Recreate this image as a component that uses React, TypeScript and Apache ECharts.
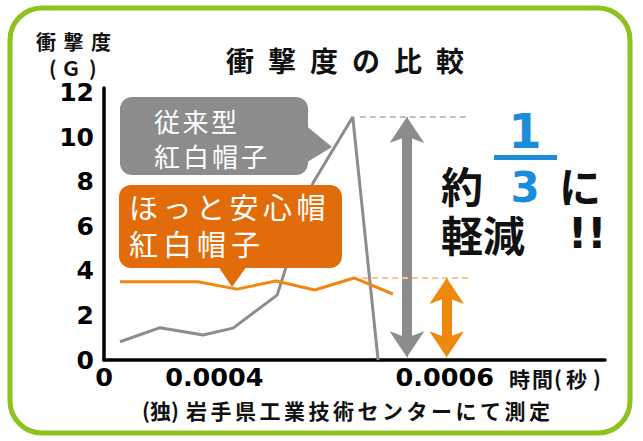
import { useEffect, useRef } from 'react';
import * as echarts from 'echarts';

// time in sampling steps from the origin, impact in G
const grayTimes = [0.41, 1.44, 2.54, 3.31, 4.44, 5.36, 6.38, 7.03];
const grayValues = [0.82, 1.45, 1.12, 1.43, 2.91, 7.94, 10.9, 0];
const orangeTimes = [0.41, 1.41, 2.41, 3.41, 4.41, 5.41, 6.41, 7.41];
const orangeValues = [3.51, 3.51, 3.51, 3.18, 3.54, 3.14, 3.68, 2.96];

const xTickValues = [0, 2.83, 8.74];
const xTickLabels = ['0', '0.0004', '0.0006'];
const yTickValues = [0, 2, 4, 6, 8, 10, 12];

const grayLabel = ['従来型', '紅白帽子'];
const orangeLabel = ['ほっと安心帽', '紅白帽子'];

const JP = '"Noto Sans CJK JP", sans-serif';
const NUM = '"DejaVu Sans", sans-serif';

const GRAY = '#8c8c8c';
const ORANGE_BOX = '#e36c0a';
const ORANGE = '#f0870f';
const BLUE = '#1a8cd8';

// how far the thick shaft reaches into an arrow head, in G
const SHAFT_INSET = 0.85;

const txt = (text: string, x: number, y: number, size: number, fill: string,
    weight = 'normal', family = JP, align = 'left') => ({
    type: 'text',
    x,
    y,
    z: 100,
    style: {
        text, fontSize: size, lineHeight: size, fontWeight: weight, fontFamily: family,
        fill, align, verticalAlign: 'middle',
    },
});

// lay out characters one by one, so the spacing matches
const spaced = (text: string, x: number, y: number, size: number, step: number,
    fill: string, weight = 'normal') =>
    Array.from(text).map((ch, i) => txt(ch, x + i * step, y, size, fill, weight));

const placed = (text: string, xs: number[], y: number, size: number, fill: string, weight = 'normal') =>
    Array.from(text).map((ch, i) => txt(ch, xs[i], y, size, fill, weight));

const arrowLines = (t: number, top: number, color: string) => [
    [
        { coord: [t, 0.12 + SHAFT_INSET], symbol: 'none', lineStyle: { color, width: 10, type: 'solid' } },
        { coord: [t, top - SHAFT_INSET], symbol: 'none', lineStyle: { color, width: 10, type: 'solid' } },
    ],
    [
        { coord: [t, 0.12], symbol: 'arrow', symbolSize: [26, 26], lineStyle: { color, width: 1, type: 'solid' } },
        { coord: [t, top], symbol: 'arrow', symbolSize: [26, 26], lineStyle: { color, width: 1, type: 'solid' } },
    ],
];

const dashLine = (from: number, to: number, v: number, color: string) => [
    { coord: [from, v], symbol: 'none', lineStyle: { color, width: 2, type: [6, 4] } },
    { coord: [to, v], symbol: 'none', lineStyle: { color, width: 2, type: [6, 4] } },
];

export default function App() {
    const chartRef = useRef<HTMLDivElement>(null);

    useEffect(() => {
        if (!chartRef.current) return;
        const chart = echarts.init(chartRef.current, undefined, { renderer: 'svg' });

        const grayPeak = Math.max(...grayValues);
        const orangePeak = Math.max(...orangeValues);

        const option = {
            animation: false,
            backgroundColor: '#fff',
            grid: { left: 104, right: 38, top: 88, bottom: 81 },
            xAxis: {
                type: 'value',
                min: 0,
                max: 12.85,
                axisLine: { lineStyle: { color: '#000', width: 3.5 } },
                axisTick: { show: false },
                splitLine: { show: false },
                axisLabel: {
                    customValues: xTickValues,
                    formatter: (v: number) => xTickLabels[xTickValues.indexOf(v)] ?? '',
                    fontFamily: NUM,
                    fontWeight: 'bold',
                    fontSize: 25.5,
                    color: '#000',
                    margin: 4,
                },
            },
            yAxis: {
                type: 'value',
                min: 0,
                max: 12.2,
                axisLine: { show: true, lineStyle: { color: '#000', width: 3.5 } },
                axisTick: { show: false },
                splitLine: { show: false },
                axisLabel: {
                    customValues: yTickValues,
                    formatter: (v: number) => String(v),
                    fontFamily: NUM,
                    fontWeight: 'bold',
                    fontSize: 25,
                    color: '#000',
                    margin: 10,
                },
            },
            series: [
                {
                    name: '従来型紅白帽子',
                    type: 'line',
                    data: grayTimes.map((t, i) => [t, grayValues[i]]),
                    symbol: 'none',
                    lineStyle: { color: GRAY, width: 3 },
                    markLine: {
                        silent: true,
                        label: { show: false },
                        data: [
                            dashLine(6.56, 9.33, grayPeak, '#c0c0c0'),
                            ...arrowLines(7.77, grayPeak, GRAY),
                        ],
                    },
                },
                {
                    name: 'ほっと安心帽紅白帽子',
                    type: 'line',
                    data: orangeTimes.map((t, i) => [t, orangeValues[i]]),
                    symbol: 'none',
                    lineStyle: { color: ORANGE, width: 3 },
                    markLine: {
                        silent: true,
                        label: { show: false },
                        data: [
                            dashLine(6.62, 9.38, orangePeak, '#f8c594'),
                            ...arrowLines(8.79, orangePeak, ORANGE),
                        ],
                    },
                },
            ],
            graphic: [
                // green frame
                {
                    type: 'rect',
                    z: 100,
                    shape: { x: 10, y: 8, width: 620, height: 425, r: 32 },
                    style: { fill: 'none', stroke: '#8dc21f', lineWidth: 5 },
                },
                // title
                ...spaced('衝撃度の比較', 226, 60, 28, 42, '#111', 'bold'),
                // y axis name
                ...spaced('衝撃度', 36, 41, 20, 27.5, '#111', 'bold'),
                ...placed('(Ｇ)', [49, 61, 89], 67, 20, '#111', 'bold'),
                // x axis name
                ...placed('時間(秒)', [509, 532, 554, 566, 593], 378, 21, '#111', 'bold'),
                // source
                txt('(独)', 142, 410, 21, '#111', 'bold'),
                ...spaced('岩手県工業技術センターにて測定', 186, 410, 21, 24.5, '#111', 'bold'),
                // gray callout
                {
                    type: 'rect', z: 100,
                    shape: { x: 120, y: 97, width: 188, height: 78, r: 12 },
                    style: { fill: GRAY },
                },
                {
                    type: 'polygon', z: 100,
                    shape: { points: [[304, 124], [332, 147], [304, 164]] },
                    style: { fill: GRAY },
                },
                ...spaced(grayLabel[0], 154, 120, 26, 28.5, '#fff'),
                ...spaced(grayLabel[1], 154, 155, 26, 29, '#fff'),
                // orange callout
                {
                    type: 'rect', z: 100,
                    shape: { x: 119, y: 185, width: 223, height: 83, r: 12 },
                    style: { fill: ORANGE_BOX },
                },
                {
                    type: 'polygon', z: 100,
                    shape: { points: [[218, 266], [247, 266], [232, 287]] },
                    style: { fill: ORANGE_BOX },
                },
                ...spaced(orangeLabel[0], 129, 206, 29, 33.5, '#fff'),
                ...spaced(orangeLabel[1], 129, 243, 29, 34, '#fff'),
                // 約 1/3 に 軽減!!
                txt('約', 441, 184, 42, '#111', 'bold'),
                txt('1', 525, 131, 48, BLUE, 'bold', NUM, 'center'),
                {
                    type: 'rect', z: 100,
                    shape: { x: 494, y: 155, width: 63, height: 5 },
                    style: { fill: BLUE },
                },
                txt('3', 525, 187, 42, BLUE, 'bold', NUM, 'center'),
                txt('に', 559, 184, 42, '#111', 'bold'),
                ...spaced('軽減', 441, 233, 42, 42, '#111', 'bold'),
                txt('!!', 568, 233, 42, '#111', 'bold', NUM),
            ],
        };

        chart.setOption(option);
        return () => chart.dispose();
    }, []);

    return (
        <div
            ref={chartRef}
            style={{ position: 'absolute', left: 0, top: 0, width: '643px', height: '441px', background: '#fff' }}
        ></div>
    );
}
